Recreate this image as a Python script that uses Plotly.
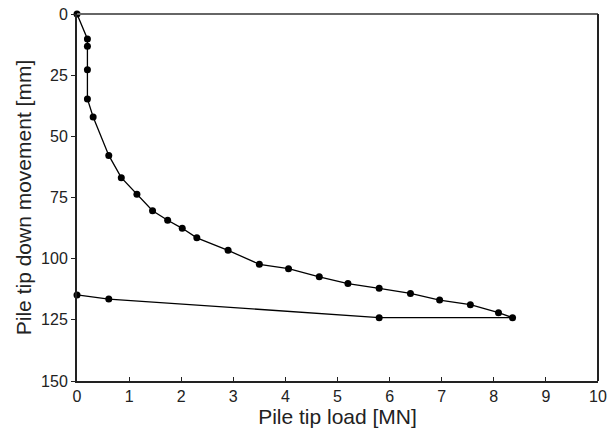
import plotly.graph_objects as go

# pile tip load [MN] and down movement [mm], loading then unloading
load_mn = [0.0, 0.20, 0.20, 0.20, 0.20, 0.31, 0.61, 0.85, 1.15, 1.45, 1.74, 2.02,
           2.30, 2.90, 3.50, 4.06, 4.65, 5.20, 5.80, 6.40, 6.96, 7.55, 8.09, 8.36,
           5.80, 0.61, 0.0]
movement_mm = [0.0, 10.2, 13.2, 22.8, 34.7, 42.1, 57.8, 66.9, 73.7, 80.4, 84.3, 87.6,
               91.5, 96.6, 102.3, 104.1, 107.4, 110.2, 112.1, 114.2, 116.9, 118.8, 122.1, 124.1,
               124.1, 116.5, 114.8]

x_ticks = list(range(0, 11))
y_ticks = [0, 25, 50, 75, 100, 125, 150]

fig = go.Figure()
fig.add_trace(go.Scatter(
    x=load_mn, y=movement_mm,
    mode="lines+markers",
    line=dict(color="black", width=1.3),
    marker=dict(color="black", size=7),
    cliponaxis=False,
    showlegend=False,
))

# box: grey top edge, dark right edge
fig.add_shape(type="line", xref="paper", yref="paper", x0=0, x1=1, y0=1, y1=1,
              line=dict(color="#666666", width=2))
fig.add_shape(type="line", xref="paper", yref="paper", x0=1, x1=1, y0=0, y1=1,
              line=dict(color="#222222", width=2))

fig.update_layout(
    width=609, height=433,
    margin=dict(l=77, r=11, t=14, b=52),
    plot_bgcolor="white", paper_bgcolor="white",
    font=dict(family="Liberation Sans, Arial, sans-serif", color="#222222", size=16),
    xaxis=dict(
        range=[0, 10], tickvals=x_ticks, showgrid=False, zeroline=False,
        showline=True, linecolor="#222222", linewidth=2,
        ticks="inside", ticklen=4, tickcolor="#222222", automargin=False,
        ticklabeloverflow="allow",
        title=dict(text="Pile tip load [MN]", font=dict(size=21), standoff=5),
    ),
    yaxis=dict(
        range=[150, 0], tickvals=y_ticks, showgrid=False, zeroline=False,
        showline=True, linecolor="#222222", linewidth=2,
        ticks="outside", ticklen=4, tickcolor="#222222", automargin=False,
        ticklabeloverflow="allow",
        title=dict(text="Pile tip down movement [mm]", font=dict(size=21), standoff=4),
    ),
)

# drop the default 8px page margin so the figure fills the window
fig.write_html("out.html", config={"displayModeBar": False},
               post_script="document.body.style.margin='0';document.body.style.overflow='hidden';")
